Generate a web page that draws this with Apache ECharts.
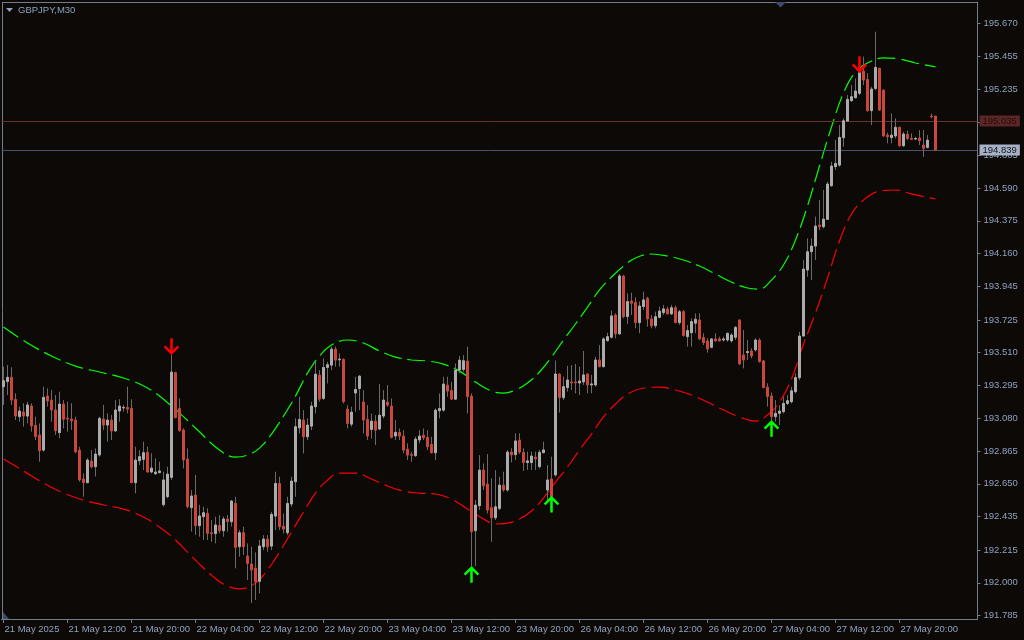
<!DOCTYPE html>
<html><head><meta charset="utf-8">
<script src="https://cdn.jsdelivr.net/npm/echarts@6/dist/echarts.min.js"></script>
<style>html,body{margin:0;padding:0;background:#0c0907}#c{width:1024px;height:640px}</style>
</head><body><div id="c"></div>
<script>
const symbolName = 'GBPJPY,M30';
// x-axis labels, one every 16 bars (8 hours of M30 bars)
const timeLabels = ['21 May 2025','21 May 12:00','21 May 20:00','22 May 04:00','22 May 12:00','22 May 20:00',
  '23 May 04:00','23 May 12:00','23 May 20:00','26 May 04:00','26 May 12:00','26 May 20:00',
  '27 May 04:00','27 May 12:00','27 May 20:00'];
const barsPerLabel = 16;
const totalSlots = 244; // bars + empty chart shift on the right

const opens = [
193.287,193.320,193.348,193.204,193.090,193.121,193.094,193.160,193.033,192.970,
192.871,193.226,193.199,193.134,192.985,193.173,193.081,193.075,193.068,192.871,
192.681,192.657,192.799,192.762,192.839,193.075,193.035,193.068,192.996,193.127,
193.147,193.151,193.145,192.657,192.801,192.810,192.856,192.727,192.716,192.723,
192.513,192.565,192.692,193.379,193.145,193.003,192.812,192.493,192.576,192.375,
192.434,192.456,192.329,192.323,192.377,192.342,192.419,192.401,192.522,192.237,
192.329,192.176,192.124,192.097,192.010,192.237,192.287,192.241,192.438,192.652,
192.372,192.329,192.517,192.663,193.017,193.068,192.958,193.028,193.155,193.363,
193.210,193.413,193.428,193.533,193.463,193.466,193.140,193.041,193.245,193.275,
193.186,193.072,193.006,193.061,193.009,193.094,193.186,193.160,192.963,192.987,
192.963,192.877,192.842,192.834,192.937,192.969,192.954,192.908,192.853,193.129,
193.133,193.297,193.262,193.205,193.396,193.400,193.455,193.225,192.342,192.506,
192.740,192.648,192.493,192.427,192.488,192.641,192.609,192.858,192.841,192.937,
192.856,192.789,192.789,192.824,192.762,192.854,192.609,192.681,192.708,193.370,
193.215,193.281,193.318,193.318,193.311,193.318,193.370,193.298,193.298,193.462,
193.418,193.589,193.611,193.757,193.633,194.013,193.746,193.849,193.840,193.707,
193.812,193.867,193.731,193.687,193.742,193.773,193.797,193.764,193.805,193.707,
193.779,193.615,193.641,193.703,193.724,193.609,193.587,193.545,193.600,193.600,
193.593,193.593,193.587,193.611,193.724,193.495,193.510,193.521,193.528,193.593,
193.456,193.284,193.226,193.090,193.112,193.123,193.177,193.188,193.254,193.346,
193.619,194.052,194.172,194.209,194.347,194.336,194.384,194.605,194.730,194.740,
194.920,195.029,195.162,195.182,195.211,195.357,195.302,195.097,195.243,195.375,
195.232,194.937,194.920,194.931,194.988,194.867,194.942,194.915,194.911,194.918,
194.872,194.856,195.062,195.062];
const highs = [
193.418,193.429,193.414,193.243,193.156,193.178,193.188,193.178,193.090,193.046,
193.287,193.276,193.265,193.232,193.254,193.199,193.188,193.178,193.090,192.893,
192.718,192.817,192.871,192.882,193.090,193.167,193.112,193.101,193.199,193.204,
193.167,193.287,193.204,192.893,192.871,192.926,192.893,192.850,192.817,192.795,
192.729,192.762,193.495,193.385,193.210,193.014,192.882,192.609,192.708,192.511,
192.500,192.489,192.412,192.434,192.445,192.434,192.445,192.544,192.565,192.347,
192.369,192.259,192.237,192.200,192.281,192.313,192.313,192.466,192.729,192.696,
192.455,192.565,192.696,193.079,193.221,193.133,193.079,193.188,193.450,193.396,
193.472,193.450,193.549,193.549,193.505,193.472,193.166,193.155,193.352,193.363,
193.264,193.166,193.111,193.100,193.304,193.264,193.297,193.210,193.068,193.013,
193.002,192.915,192.860,192.958,193.002,193.013,193.002,192.958,193.144,193.243,
193.352,193.352,193.319,193.439,193.488,193.494,193.549,193.243,192.543,192.838,
192.783,192.845,192.685,192.740,192.696,192.729,192.871,192.883,192.981,192.981,
192.883,192.861,192.861,192.861,192.872,192.926,192.773,192.828,193.458,193.375,
193.353,193.423,193.429,193.436,193.418,193.521,193.375,193.364,193.484,193.560,
193.611,193.641,193.786,193.768,194.026,194.020,193.899,193.904,193.873,193.845,
193.910,193.877,193.757,193.779,193.812,193.823,193.812,193.823,193.818,193.790,
193.790,193.692,193.735,193.768,193.768,193.637,193.604,193.604,193.637,193.615,
193.615,193.641,193.637,193.685,193.729,193.659,193.593,193.539,193.604,193.604,
193.462,193.309,193.249,193.199,193.166,193.221,193.232,193.286,193.374,193.647,
194.117,194.259,194.259,194.402,194.511,194.577,194.631,194.762,194.905,195.003,
195.047,195.200,195.265,195.309,195.364,195.451,195.342,195.254,195.615,195.379,
195.237,194.953,195.079,195.047,194.992,194.959,194.966,194.948,194.926,194.970,
194.970,194.937,195.079,195.062];
const lows = [
193.167,193.232,193.167,193.068,193.057,193.025,193.046,192.992,192.937,192.795,
192.860,193.156,193.057,192.970,192.948,193.014,192.992,193.003,192.850,192.664,
192.565,192.653,192.751,192.697,192.828,193.003,192.926,192.937,192.992,193.057,
193.123,193.112,192.653,192.587,192.773,192.740,192.723,192.718,192.708,192.718,
192.500,192.554,192.675,193.079,192.992,192.751,192.489,192.336,192.314,192.303,
192.281,192.281,192.270,192.259,192.325,192.303,192.336,192.369,192.095,192.172,
192.183,192.019,191.868,191.888,191.931,192.215,192.204,192.215,192.346,192.346,
192.324,192.313,192.499,192.565,192.980,192.849,192.937,193.002,193.111,193.188,
193.199,193.308,193.396,193.418,193.418,193.177,193.013,193.024,193.122,193.133,
192.980,192.937,192.947,192.904,193.002,193.079,193.155,192.947,192.937,192.937,
192.849,192.805,192.794,192.827,192.915,192.937,192.871,192.849,192.805,193.079,
193.122,193.221,193.199,193.199,193.374,193.385,193.111,192.110,192.110,192.477,
192.609,192.455,192.270,192.412,192.477,192.598,192.598,192.790,192.806,192.845,
192.734,192.741,192.741,192.741,192.751,192.850,192.533,192.555,192.697,193.117,
193.200,193.254,193.265,193.243,193.232,193.298,193.243,193.243,193.287,193.414,
193.412,193.582,193.604,193.604,193.626,193.735,193.698,193.757,193.670,193.637,
193.790,193.681,193.670,193.670,193.735,193.757,193.762,193.757,193.703,193.692,
193.615,193.550,193.550,193.637,193.593,193.560,193.510,193.539,193.582,193.582,
193.582,193.582,193.576,193.593,193.429,193.407,193.462,193.473,193.517,193.445,
193.276,193.156,193.068,193.057,193.035,193.112,193.166,193.177,193.243,193.330,
193.615,194.008,193.986,194.117,194.314,194.325,194.380,194.598,194.708,194.730,
194.861,195.025,195.156,195.178,195.200,195.265,195.090,195.003,195.232,195.097,
194.926,194.883,194.883,194.915,194.861,194.861,194.904,194.904,194.904,194.872,
194.795,194.850,195.047,194.839];
const closes = [
193.326,193.348,193.199,193.094,193.127,193.094,193.167,193.029,192.959,192.867,
193.217,193.193,193.134,192.998,193.173,193.073,193.075,193.062,192.860,192.675,
192.657,192.806,192.760,192.845,193.079,193.035,193.068,192.996,193.134,193.160,
193.151,193.140,192.657,192.806,192.828,192.854,192.727,192.753,192.727,192.734,
192.675,192.714,193.383,193.084,192.998,192.806,192.500,192.570,192.375,192.439,
192.460,192.325,192.323,192.380,192.342,192.419,192.401,192.537,192.233,192.329,
192.237,192.128,192.084,192.008,192.242,192.287,192.237,192.449,192.652,192.368,
192.353,192.521,192.668,193.024,193.072,192.958,193.035,193.160,193.369,193.205,
193.413,193.431,193.533,193.461,193.468,193.188,193.046,193.120,193.269,193.356,
193.068,192.963,193.061,193.002,193.100,193.199,193.166,192.954,192.987,192.963,
192.871,192.838,192.836,192.943,192.963,192.952,192.893,192.853,193.133,193.144,
193.304,193.258,193.205,193.396,193.461,193.457,193.221,192.335,192.510,192.740,
192.637,192.477,192.427,192.499,192.641,192.609,192.858,192.839,192.931,192.858,
192.789,192.800,192.832,192.813,192.856,192.872,192.675,192.566,193.370,193.215,
193.287,193.331,193.311,193.311,193.324,193.364,193.298,193.305,193.462,193.418,
193.600,193.615,193.751,193.633,194.013,193.746,193.845,193.834,193.707,193.816,
193.856,193.731,193.685,193.746,193.783,193.797,193.764,193.805,193.707,193.779,
193.622,193.655,193.714,193.729,193.600,193.576,193.534,193.600,193.587,193.587,
193.600,193.637,193.626,193.676,193.436,193.462,193.517,193.488,193.593,193.451,
193.281,193.222,193.090,193.112,193.127,193.177,193.195,193.260,193.346,193.619,
194.058,194.172,194.209,194.340,194.336,194.386,194.616,194.734,194.751,194.922,
195.031,195.171,195.189,195.226,195.346,195.298,195.097,195.239,195.381,195.101,
194.931,194.926,194.937,194.988,194.867,194.944,194.915,194.909,194.915,194.900,
194.850,194.904,195.057,194.839];

// band indicator, sampled [bar index, price]
const upperBand = [[0,193.678],[6,193.573],[12,193.488],[18,193.422],[24,193.383],[30,193.344],[36,193.278],[42,193.160],[48,193.016],[54,192.871],
[58,192.825],[61,192.838],[64,192.884],[67,192.976],[70,193.094],[73,193.225],[76,193.376],[79,193.488],[82,193.560],[86,193.593],
[90,193.573],[94,193.521],[98,193.481],[102,193.462],[106,193.455],[110,193.435],[114,193.389],[118,193.317],[122,193.258],[125,193.245],
[128,193.265],[131,193.311],[134,193.383],[137,193.481],[140,193.593],[143,193.698],[146,193.809],[149,193.921],[152,194.006],[155,194.078],
[158,194.131],[162,194.157],[166,194.144],[170,194.118],[174,194.078],[178,194.026],[182,193.973],[186,193.934],[189,193.927],[192,193.986],
[195,194.085],[198,194.249],[201,194.472],[204,194.734],[207,194.990],[210,195.213],[213,195.351],[216,195.410],[220,195.443],[224,195.436],
[228,195.410],[233,195.384]];
const lowerBand = [[0,192.812],[5,192.734],[10,192.655],[15,192.589],[20,192.543],[25,192.511],[30,192.484],[35,192.432],[40,192.347],[43,192.281],
[46,192.202],[49,192.123],[52,192.051],[55,191.992],[59,191.960],[63,191.999],[66,192.084],[69,192.202],[72,192.333],[75,192.465],
[78,192.589],[81,192.674],[84,192.720],[88,192.720],[92,192.681],[96,192.635],[100,192.602],[104,192.589],[108,192.583],[112,192.550],
[116,192.484],[120,192.419],[123,192.386],[126,192.392],[129,192.419],[132,192.471],[135,192.556],[138,192.661],[141,192.760],[144,192.871],
[147,192.976],[150,193.088],[153,193.173],[156,193.239],[160,193.278],[164,193.284],[168,193.265],[172,193.232],[176,193.186],[180,193.134],
[184,193.088],[188,193.061],[191,193.101],[194,193.186],[197,193.337],[200,193.567],[203,193.770],[206,193.999],[209,194.242],[212,194.419],
[215,194.511],[219,194.570],[223,194.577],[227,194.551],[233,194.518]];

const sellArrows = [[42,193.495],[214,195.344]];
const buyArrows = [[117,192.110],[137,192.572],[192,193.068]];
const askPrice = 195.035;
const bidPrice = 194.839;
const priceTicks = [195.670,195.455,195.235,195.020,194.805,194.590,194.375,194.160,193.945,193.725,
  193.510,193.295,193.080,192.865,192.650,192.435,192.215,192.000,191.785];

const categories = Array.from({length: totalSlots}, (_, i) => String(i));
const wickData = opens.map((o, i) => [o, closes[i], lows[i], highs[i]]);
const bodyData = opens.map((o, i) => [o, closes[i], Math.min(o, closes[i]), Math.max(o, closes[i])]);

const FG = '#8fa2bf';
const FRAME = '#737c8e';
const FONT = 'Liberation Sans';
const WICK = '#6a6a6a', BULL = '#ababab', BEAR = '#c9473b';
const downPath = 'path://M6.75,0L9.25,0L9.25,12L14,7.25L15.75,9L8,16.75L0.25,9L2,7.25L6.75,12Z';
const upPath = 'path://M6.75,16.75L9.25,16.75L9.25,4.75L14,9.5L15.75,7.75L8,0L0.25,7.75L2,9.5L6.75,4.75Z';
const isLabelBar = (idx) => idx % barsPerLabel === 0 && idx / barsPerLabel < timeLabels.length;

const chart = echarts.init(document.getElementById('c'), null, {renderer: 'canvas'});
chart.setOption({
  backgroundColor: '#0c0907',
  animation: false,
  grid: {left: 1.5, right: 46.5, top: 2, bottom: 21},
  xAxis: {
    type: 'category', data: categories, boundaryGap: true,
    axisLine: {show: true, lineStyle: {color: FRAME}},
    axisTick: {show: true, alignWithLabel: true, length: 4, interval: (i) => isLabelBar(i), lineStyle: {color: FRAME}},
    axisLabel: {interval: (i) => isLabelBar(i), formatter: (v, i) => timeLabels[Math.round(Number(v) / barsPerLabel)] || '',
      align: 'left', margin: 5, color: FG, fontFamily: FONT, fontSize: 9.5, padding: [0, 0, 0, 1]},
    splitLine: {show: false}
  },
  yAxis: {
    type: 'value', position: 'right', min: 191.763, max: 195.810, scale: true,
    axisLine: {show: true, lineStyle: {color: FRAME}},
    axisTick: {show: true, length: 3, customValues: priceTicks, lineStyle: {color: FRAME}},
    axisLabel: {customValues: priceTicks, formatter: (v) => Number(v).toFixed(3), color: FG, fontFamily: FONT, fontSize: 9.5, margin: 6},
    splitLine: {show: false}
  },
  graphic: [
    {type: 'line', shape: {x1: 2.5, y1: 2, x2: 2.5, y2: 619}, style: {stroke: FRAME, lineWidth: 1}, silent: true},
    {type: 'line', shape: {x1: 2, y1: 2.5, x2: 978, y2: 2.5}, style: {stroke: FRAME, lineWidth: 1}, silent: true},
    {type: 'polygon', shape: {points: [[6, 8], [13, 8], [9.5, 12]]}, style: {fill: FG}, silent: true},
    {type: 'text', left: 18, top: 5, style: {text: symbolName, fill: FG, font: '9.5px "Liberation Sans"'}, silent: true},
    {type: 'polygon', shape: {points: [[775, 2], [786, 2], [780.5, 7.5]]}, style: {fill: '#3d4a70'}, silent: true},
    {type: 'polygon', shape: {points: [[3, 612], [3, 619], [9, 619]]}, style: {fill: '#3d4a70'}, silent: true}
  ],
  series: [
    {type: 'line', name: 'upper', data: upperBand, smooth: 0.4, showSymbol: false, symbol: 'none', z: 2,
      lineStyle: {color: '#00ff00', width: 1.2, type: [18, 6]},
      markLine: {silent: true, symbol: ['none', 'none'], animation: false,
        data: [
          {yAxis: askPrice, lineStyle: {color: '#6a2f2f', width: 1, type: 'solid'},
            label: {show: true, position: 'end', distance: 2, formatter: askPrice.toFixed(3), backgroundColor: '#5a2626',
              color: '#2a0a0a', padding: [1, 3, 0, 3], fontFamily: FONT, fontSize: 9.5, lineHeight: 10}},
          {yAxis: bidPrice, lineStyle: {color: '#4a5272', width: 1, type: 'solid'},
            label: {show: true, position: 'end', distance: 2, formatter: bidPrice.toFixed(3), backgroundColor: '#a7b1c5',
              color: '#12151e', padding: [1, 3, 0, 3], fontFamily: FONT, fontSize: 9.5, lineHeight: 10}}
        ]}},
    {type: 'line', name: 'lower', data: lowerBand, smooth: 0.4, showSymbol: false, symbol: 'none', z: 2,
      lineStyle: {color: '#ff0000', width: 1.2, type: [18, 6]}},
    {type: 'candlestick', name: 'wicks', data: wickData, barWidth: 0, z: 10,
      itemStyle: {color: WICK, color0: WICK, borderColor: WICK, borderColor0: WICK, borderWidth: 1}},
    {type: 'candlestick', name: 'bodies', data: bodyData, barWidth: 2, z: 10,
      itemStyle: {color: BULL, color0: BEAR, borderColor: BULL, borderColor0: BEAR, borderWidth: 1}},
    {type: 'scatter', name: 'sell', data: sellArrows, symbol: downPath, symbolSize: [15.5, 16.75], symbolOffset: [0, -8.4],
      itemStyle: {color: '#ff0000', opacity: 1}, z: 12},
    {type: 'scatter', name: 'buy', data: buyArrows, symbol: upPath, symbolSize: [15.5, 16.75], symbolOffset: [0, 8.4],
      itemStyle: {color: '#00ff00', opacity: 1}, z: 12}
  ]
});
</script>
</body></html>
